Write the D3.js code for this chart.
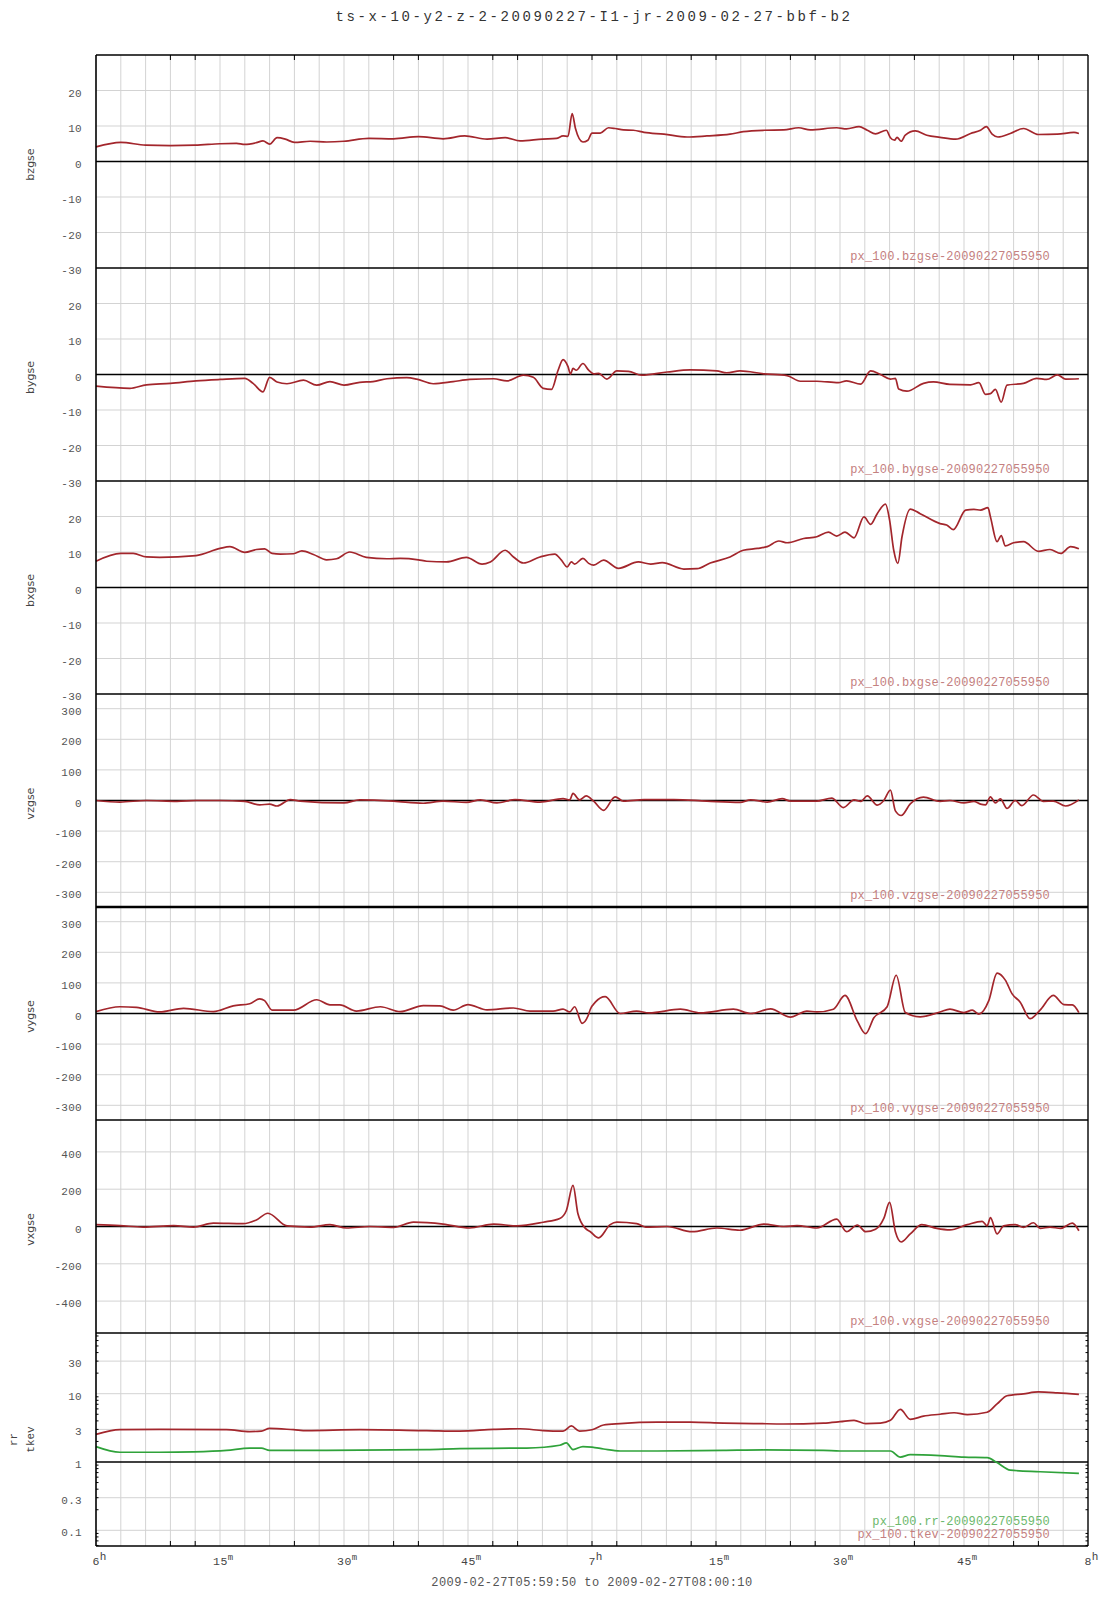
<!DOCTYPE html>
<html><head><meta charset="utf-8">
<script src="https://cdn.jsdelivr.net/npm/d3@7"></script>
<style>body{margin:0;background:#fff}</style>
</head><body><svg id="c" width="1107" height="1600"></svg>
<script>
// ---------------- data (minutes after 06:00 UT, value) ----------------
const bzgse = [[0,4.1],[3,5.4],[6,4.6],[9,4.5],[12,4.6],[15,5.0],[17,5.1],[18,4.8],[19.4,5.3],[20.2,5.8],[21,4.9],[21.9,6.7],[22.9,6.3],[24,5.4],[25.9,5.7],[27.9,5.5],[30,5.7],[33,6.5],[36,6.4],[39,7.0],[42,6.4],[44.6,7.2],[47.3,6.3],[49.5,6.7],[51.3,5.8],[54,6.3],[55.7,6.5],[56.5,7.2],[57.1,7.1],[57.6,13.5],[58,9.3],[58.9,5.5],[59.5,6.0],[60,8.0],[61,8.0],[62,9.5],[62.8,9.3],[63.8,8.9],[65,8.8],[66.3,8.2],[68.7,7.7],[71.5,6.9],[73.9,7.2],[76.7,7.7],[78.3,8.4],[80.8,8.8],[83.2,8.9],[85,9.5],[86.4,8.9],[89.6,9.5],[90.8,9.2],[92.3,9.8],[93.3,8.8],[94.3,7.8],[95.6,8.8],[96.1,6.7],[96.6,6.0],[96.9,6.8],[97.4,5.7],[97.9,7.4],[99.1,8.6],[100.5,7.4],[102.1,6.8],[104,6.3],[105.8,7.9],[107,8.8],[107.7,9.8],[108.4,7.7],[109.1,6.9],[110.6,7.9],[112.2,9.3],[114,7.6],[116.3,7.7],[118.3,8.2],[118.9,7.9]];
const bygse = [[0,-3.3],[4.1,-3.9],[6.1,-2.9],[9,-2.5],[12.1,-1.8],[15,-1.4],[18,-1.1],[19,-2.5],[20.2,-4.9],[21,-0.8],[21.9,-2.1],[23.1,-2.6],[25.1,-1.6],[26.7,-3.0],[28.3,-2.0],[30,-3.0],[31.9,-2.2],[33.5,-2.0],[35.2,-1.2],[37.6,-0.9],[38.8,-1.3],[40.8,-2.6],[43.2,-2.0],[45.2,-1.4],[48.1,-1.2],[49.7,-1.8],[51.7,-0.2],[52.9,-0.8],[54.1,-3.9],[55.1,-4.2],[55.9,1.2],[56.5,4.2],[57.1,2.2],[57.4,0.1],[57.7,1.7],[58.1,1.2],[58.9,3.1],[59.6,1.2],[60.2,0.2],[60.8,0.3],[61.8,-1.3],[63,1.0],[64.4,0.9],[66,-0.2],[69.1,0.7],[71.9,1.3],[75.1,1.0],[76.3,0.5],[77.9,1.0],[80.8,0.2],[83.6,-0.3],[85.2,-1.9],[87.2,-1.9],[89.8,-2.3],[90.8,-1.8],[92.5,-2.7],[93.7,1.0],[94.9,0.0],[96.1,-1.3],[96.7,-1.1],[97.1,-4.1],[98.1,-4.7],[100.1,-2.5],[101.3,-2.1],[103.3,-2.8],[105.8,-2.9],[106.8,-2.3],[107.6,-5.6],[108.2,-5.4],[108.8,-4.2],[109.5,-7.8],[110.2,-3.0],[112.2,-2.5],[113.8,-1.1],[115,-1.4],[116.3,-0.1],[117.3,-1.3],[118.9,-1.2]];
const bxgse = [[0,7.4],[3,9.6],[4.5,9.6],[6.1,8.6],[7.7,8.5],[12.1,9.0],[15,11.0],[16.2,11.5],[18,9.9],[19.4,10.7],[20.4,10.9],[21.3,9.6],[22.3,9.4],[23.9,9.5],[24.9,10.3],[26.3,9.3],[27.9,7.8],[29.1,8.1],[30.7,10.0],[32.7,8.5],[35.2,8.1],[36.8,8.2],[39,7.8],[40,7.4],[42.4,7.2],[44.8,8.5],[46.7,6.6],[47.7,7.2],[49.5,10.5],[50.5,8.6],[51.7,6.9],[53.7,8.6],[55.5,9.4],[56.3,7.7],[57,5.8],[57.5,7.2],[57.9,6.6],[58.9,8.2],[59.6,6.8],[60.2,6.3],[61.4,7.7],[63.2,5.4],[65.6,7.2],[67.1,6.6],[68.5,7.0],[71.1,5.2],[72.7,5.3],[74.3,6.9],[76.7,8.6],[78.3,10.5],[80,11.0],[81.2,11.5],[82.6,13.1],[83.6,12.6],[85.6,13.8],[87.2,14.3],[88.6,15.6],[89.6,14.5],[90.6,15.6],[91.7,14.0],[92.9,19.9],[93.7,17.8],[94.5,20.8],[95.5,23.5],[96,19.0],[96.5,10.5],[97,6.8],[97.5,14.3],[98.5,22.1],[99.7,20.8],[102.1,18.0],[102.9,17.6],[103.7,16.3],[105.2,21.8],[106.2,22.0],[107,21.8],[107.9,22.5],[108.2,19.9],[109,12.9],[109.5,14.6],[110,11.7],[111,12.6],[112.2,12.9],[114,10.2],[115.4,10.7],[116.7,9.6],[117.9,11.5],[118.9,10.9]];
const vzgse = [[0,0],[2.9,-5],[6.1,0],[9.8,-3],[12.1,0],[15,0],[18,-3],[19.8,-14],[21,-12],[21.9,-18],[23.5,3],[24.7,-2],[30,-8],[31.9,2],[36,-2],[39.6,-9],[42,-2],[44.8,-6],[46.5,2],[48.5,-8],[50.7,3],[53.7,-5],[56.5,6],[57.3,2],[57.7,23],[58.5,2],[59.3,15],[60.2,-2],[61.4,-32],[62.8,12],[63.8,-2],[66.3,3],[69.9,3],[73.9,-2],[77.9,-6],[79.2,2],[81.2,-5],[83,6],[84,-2],[87.2,-2],[89,8],[90.4,-23],[91.7,2],[92.5,-3],[93.3,15],[94.5,-15],[95.3,0],[96.1,34],[96.7,-34],[97.4,-49],[98.5,-11],[100.1,11],[102.1,-3],[103.3,0],[105,-8],[106.2,-3],[107,-12],[107.6,-14],[108.2,12],[108.8,-8],[109.4,5],[110.2,-26],[111.2,0],[112,-17],[113.4,18],[114.6,-3],[115.8,-2],[117.3,-18],[118.9,2]];
const vygse = [[0,6],[2.9,22],[4.9,20],[7.7,5],[10.6,17],[14.2,6],[16.6,25],[18.6,32],[19.8,48],[20.4,42],[21.3,11],[23.9,11],[26.7,45],[28.3,28],[29.5,28],[31.5,8],[34.4,22],[36.8,6],[39.6,26],[41.6,25],[43.2,11],[45,29],[47.3,12],[50.5,18],[52.5,8],[55.3,8],[56.5,14],[57.3,5],[57.9,22],[58.8,-32],[59.5,-9],[59.8,14],[60.4,37],[61.6,55],[63.4,0],[65.4,8],[66.9,2],[70.7,14],[73.1,2],[77.1,14],[79.2,0],[81.6,15],[84,-12],[86,8],[87.2,5],[89.2,14],[90.6,59],[92.1,-25],[93.1,-66],[94.1,-14],[95.7,22],[96.8,125],[97.9,3],[99.7,-11],[102.1,5],[103.3,14],[105,3],[106,11],[106.8,-2],[108,42],[109,132],[110,109],[110.8,65],[111.8,37],[113,-17],[114.2,11],[115.8,59],[117.1,29],[118.1,28],[118.9,3]];
const vxgse = [[0,10],[2.9,5],[5.7,-3],[9.4,5],[11.8,-3],[14.2,18],[17.8,15],[19.4,35],[20.8,71],[23.1,3],[25.9,-3],[28.3,10],[30.3,-8],[33.1,0],[36,-5],[38.4,23],[42,13],[45.2,-8],[48.1,13],[50.9,3],[54.1,23],[56.1,43],[56.9,86],[57.7,220],[58.3,68],[59.2,-10],[59.8,-28],[60.8,-61],[62.2,10],[63,23],[65.4,15],[66.5,-3],[69.1,0],[72.1,-28],[75.1,-8],[77.9,-20],[80.8,13],[83.2,0],[84.8,5],[87.2,-8],[89.6,40],[90.8,-28],[92.1,8],[93.1,-28],[94.3,-15],[95.3,43],[96,129],[96.7,-28],[97.4,-83],[98.5,-40],[99.9,10],[101.7,-10],[103.3,-18],[105.4,10],[107.2,28],[107.8,3],[108.2,48],[109,-40],[109.8,3],[111.2,10],[112.2,-5],[113.4,20],[114.2,-10],[115.4,-3],[116.7,-10],[118.1,18],[118.9,-23]];
const tkev = [[0,2.54],[2.9,2.97],[7.7,3.0],[15.8,2.97],[18.6,2.79],[20,2.83],[21,3.11],[23.9,2.97],[25.5,2.88],[31.9,2.97],[40,2.88],[44,2.83],[48.1,3.0],[51.3,3.07],[54.1,2.88],[56.5,2.83],[57.5,3.37],[58.5,2.83],[60,2.97],[61.4,3.48],[63.4,3.65],[67.9,3.83],[71.9,3.83],[75.9,3.71],[80,3.65],[83.2,3.6],[88,3.71],[90,3.89],[91.7,4.08],[93.1,3.65],[94.9,3.71],[96.1,4.08],[97.3,5.9],[98.5,4.21],[100.1,4.7],[102.1,5.0],[103.8,5.26],[105.4,4.95],[107.8,5.35],[109,7.1],[110.2,9.33],[112.2,9.97],[114,10.6],[116.3,10.3],[118.9,9.8]];
const rr = [[0,1.68],[2.9,1.39],[7.7,1.39],[11.8,1.41],[15.8,1.48],[18.6,1.6],[20,1.6],[21,1.48],[27.9,1.48],[40,1.52],[44,1.57],[52.1,1.6],[56.1,1.76],[56.9,1.9],[57.7,1.52],[58.9,1.68],[60,1.65],[61.4,1.55],[63.4,1.45],[67.9,1.45],[75.9,1.48],[80.8,1.5],[88,1.48],[90,1.45],[96.1,1.45],[97.3,1.18],[98.5,1.28],[102.1,1.24],[105,1.18],[107.8,1.16],[109,0.98],[110.6,0.76],[114.2,0.72],[118.9,0.68]];

const panelNames = ["bzgse","bygse","bxgse","vzgse","vygse","vxgse"];
const bTicks = [20,10,0,-10,-20,-30];
const vTicks = [300,200,100,0,-100,-200,-300];
const vxTicks = [400,200,0,-200,-400];
const logTicks = [30,10,3,1,0.3,0.1];
const xTickMinutes = [0,15,30,45,60,75,90,105,120];
const xTickMain = ["6","15","30","45","7","15","30","45","8"];
const xTickSup  = ["h","m","m","m","h","m","m","m","h"];
const xMinorTicks = [9,12,24,36,39,48,51,60,63,72,75,84,87,99,111,114];
const title = "ts-x-10-y2-z-2-20090227-I1-jr-2009-02-27-bbf-b2";
const caption = "2009-02-27T05:59:50 to 2009-02-27T08:00:10";
const stamp = "20090227055950";

// ---------------- layout ----------------
const L = 96, R = 1088, TOP = 55, PH = 213, NP = 7, BOT = TOP + PH*NP;
const RED = "#a3262c", GREEN = "#2fa23a", GRID = "#d3d3d3";
const MONO = "'Liberation Mono','DejaVu Sans Mono',monospace";
const SANS = "'DejaVu Sans',sans-serif";
const t0 = Date.UTC(2009,1,27,6,0,0);
const tm = m => new Date(t0 + m*60000);
const x = d3.scaleUtc().domain([tm(0), tm(120)]).range([L, R]);

const svg = d3.select("#c");
svg.append("rect").attr("width",1107).attr("height",1600).attr("fill","#fff");

const panels = [
  {name:panelNames[0], data:bzgse, dom:[-30,30], ticks:bTicks},
  {name:panelNames[1], data:bygse, dom:[-30,30], ticks:bTicks},
  {name:panelNames[2], data:bxgse, dom:[-30,30], ticks:bTicks},
  {name:panelNames[3], data:vzgse, dom:[-348,348], ticks:vTicks},
  {name:panelNames[4], data:vygse, dom:[-348,348], ticks:vTicks},
  {name:panelNames[5], data:vxgse, dom:[-571,571], ticks:vxTicks},
  {name:"log", log:true, dom:[0.0589,77.4], ticks:logTicks}
];

const gGrid = svg.append("g");
const gBase = svg.append("g");
const gLines = svg.append("g");
const gAxis = svg.append("g");

// vertical grid every 3 minutes
d3.range(3,120,3).forEach(m=>{
  gGrid.append("line").attr("x1",x(tm(m))).attr("x2",x(tm(m)))
    .attr("y1",TOP).attr("y2",BOT).attr("stroke",GRID).attr("stroke-width",1);
});

panels.forEach((p,i)=>{
  const top = TOP + i*PH, bot = top + PH;
  const y = (p.log ? d3.scaleLog() : d3.scaleLinear()).domain(p.dom).range([bot, top]);
  const base = p.log ? 1 : 0;
  // horizontal grid + labels
  p.ticks.forEach(v=>{
    const yy = y(v);
    if (v !== base && yy > top+1 && yy < bot-1)
      gGrid.append("line").attr("x1",L).attr("x2",R).attr("y1",yy).attr("y2",yy)
        .attr("stroke",GRID).attr("stroke-width",1);
    gAxis.append("text").attr("x",82).attr("y",yy+6).attr("text-anchor","end")
      .attr("font-family",MONO).attr("font-size",11).attr("letter-spacing",0.3).attr("fill","#555")
      .text(String(v));
  });
  // baseline (below data lines)
  gBase.append("line").attr("x1",L).attr("x2",R).attr("y1",y(base)).attr("y2",y(base))
    .attr("stroke","#000").attr("stroke-width",1.4);
  // panel bottom boundary
  gBase.append("line").attr("x1",L).attr("x2",R).attr("y1",bot).attr("y2",bot)
    .attr("stroke","#000").attr("stroke-width", i===3 ? 2.6 : 1.4);
  // log minor ticks
  if (p.log) {
    [0.01,0.1,1,10].forEach(d=>d3.range(2,10).forEach(k=>{
      const v=d*k; if (v<p.dom[0]||v>p.dom[1]) return;
      gAxis.append("line").attr("x1",L).attr("x2",L+2.5).attr("y1",y(v)).attr("y2",y(v)).attr("stroke","#000");
      gAxis.append("line").attr("x1",R-2.5).attr("x2",R).attr("y1",y(v)).attr("y2",y(v)).attr("stroke","#000");
    }));
  }
  const line = d3.line().x(d=>x(tm(d[0]))).y(d=>y(d[1])).curve(d3.curveMonotoneX);
  if (!p.log) {
    gLines.append("path").datum(p.data).attr("d",line).attr("fill","none")
      .attr("stroke",RED).attr("stroke-width",1.7).attr("stroke-linejoin","round");
    gAxis.append("text").attr("x",1050).attr("y",bot-8.5).attr("text-anchor","end")
      .attr("font-family",MONO).attr("font-size",12).attr("letter-spacing",0.2)
      .attr("fill","#c48080").text("px_100."+p.name+"-"+stamp);
    gAxis.append("text").attr("transform",`translate(34,${top+PH/2+3}) rotate(-90)`)
      .attr("text-anchor","middle").attr("font-family",SANS).attr("font-size",11)
      .attr("fill","#444").text(p.name);
  } else {
    gLines.append("path").datum(tkev).attr("d",line).attr("fill","none")
      .attr("stroke",RED).attr("stroke-width",1.7);
    gLines.append("path").datum(rr).attr("d",line).attr("fill","none")
      .attr("stroke",GREEN).attr("stroke-width",1.7);
    gAxis.append("text").attr("x",1050).attr("y",bot-21).attr("text-anchor","end")
      .attr("font-family",MONO).attr("font-size",12).attr("letter-spacing",0.2)
      .attr("fill","#6cb86c").text("px_100.rr-"+stamp);
    gAxis.append("text").attr("x",1050).attr("y",bot-8.5).attr("text-anchor","end")
      .attr("font-family",MONO).attr("font-size",12).attr("letter-spacing",0.2)
      .attr("fill","#c48080").text("px_100.tkev-"+stamp);
    gAxis.append("text").attr("transform",`translate(17,${top+PH/2}) rotate(-90)`)
      .attr("text-anchor","middle").attr("font-family",MONO).attr("font-size",11)
      .attr("fill","#444").text("rr");
    gAxis.append("text").attr("transform",`translate(34,${top+PH/2}) rotate(-90)`)
      .attr("text-anchor","middle").attr("font-family",MONO).attr("font-size",11)
      .attr("fill","#444").text("tkev");
  }
});

// outer frame
gAxis.append("line").attr("x1",L).attr("x2",R).attr("y1",TOP).attr("y2",TOP).attr("stroke","#000").attr("stroke-width",1.4);
gAxis.append("line").attr("x1",L).attr("x2",L).attr("y1",TOP).attr("y2",BOT).attr("stroke","#000").attr("stroke-width",1.6);
gAxis.append("line").attr("x1",R).attr("x2",R).attr("y1",TOP).attr("y2",BOT).attr("stroke","#000").attr("stroke-width",1.4);

// x minor ticks top and bottom
xMinorTicks.forEach(m=>{
  const xx = x(tm(m));
  gAxis.append("line").attr("x1",xx).attr("x2",xx).attr("y1",TOP).attr("y2",TOP+5).attr("stroke","#000");
  gAxis.append("line").attr("x1",xx).attr("x2",xx).attr("y1",BOT-5).attr("y2",BOT).attr("stroke","#000");
});

// x tick labels
xTickMinutes.forEach((m,i)=>{
  const xx = x(tm(m));
  const w = xTickMain[i].length * 6.9;
  const t = gAxis.append("text").attr("x",xx - w/2).attr("y",BOT+19)
    .attr("font-family",MONO).attr("font-size",11.5).attr("letter-spacing",0.4).attr("fill","#444");
  t.append("tspan").text(xTickMain[i]);
  t.append("tspan").attr("dy",-5).attr("font-size",xTickSup[i]==="h"?11:9).text(xTickSup[i]);
});

// title & caption
svg.append("text").attr("x",594).attr("y",21).attr("text-anchor","middle")
  .attr("font-family",MONO).attr("font-size",14).attr("letter-spacing",2.6)
  .attr("fill","#333").text(title);
svg.append("text").attr("x",592).attr("y",1586).attr("text-anchor","middle")
  .attr("font-family",MONO).attr("font-size",12).attr("letter-spacing",0.45)
  .attr("fill","#555").text(caption);
</script></body></html>
